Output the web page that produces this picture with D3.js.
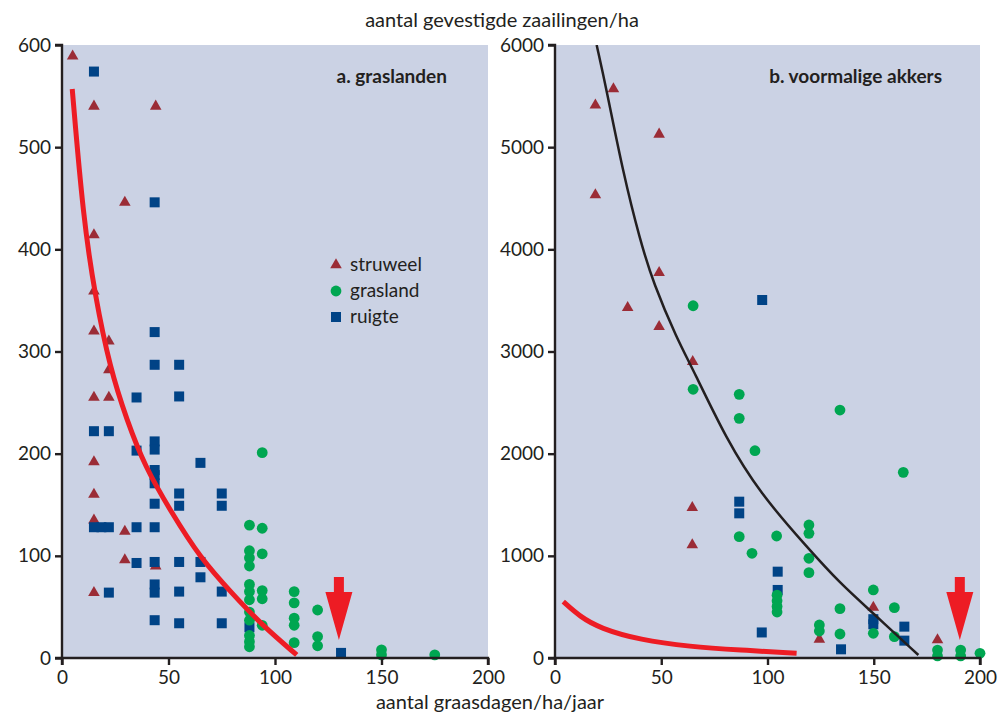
<!DOCTYPE html>
<html lang="nl">
<head>
<meta charset="UTF-8">
<title>Zaailingen en begrazing</title>
<script src="https://d3js.org/d3.v7.min.js"></script>
<style>
    body { margin: 0; background: #fff; }
    text { font-family: Lato, "Open Sans", sans-serif; fill: #231f20; }
</style>
</head>
<body>
<div id="chart"></div>
<script>
// ---- data ----
const xTicks = [0, 50, 100, 150, 200];
const yTicksA = [0, 100, 200, 300, 400, 500, 600];
const yTicksB = [0, 1000, 2000, 3000, 4000, 5000, 6000];

const legendLabels = ["struweel", "grasland", "ruigte"];

// a. graslanden  [graasdagen, zaailingen]
const aStruweel = [[5,589],[15,540],[44,540],[29.5,446],[15,414],[15,359],[15,320],[22,310],
    [22,282],[15,255],[22,255],[15,192],[15,160],[15,135],[29.5,124],[29.5,96],[44,90],[15,64]];
const aGrasland = [[88,130],[88,105],[88,98],[88,90],[88,72],[88,65],[88,57],[88,45],[88,37],
    [88,22],[88,16],[88,11],[94,201],[94,127],[94,102],[94,66],[94,58],[94,32],
    [109,65],[109,54],[109,39],[109,32],[109,15],[120,47],[120,21],[120,12],
    [150,8],[150,3],[175,3]];
const aRuigte = [[15,574],[43.5,446],[43.5,319],[43.5,287],[55,287],[35,255],[55,256],[15,222],
    [22,222],[43.5,212],[43.5,204],[35,203],[65,191],[43.5,184],[43.5,179],[43.5,171],
    [55,161],[75,161],[43.5,151],[55,149],[75,149],[15,128],[18.5,128],[22,128],[35,128],
    [43.5,128],[35,93],[43.5,94],[55,94],[65,94],[65,79],[43.5,72],[43.5,64],[55,65],
    [75,65],[22,64],[88,30],[43.5,37],[55,34],[75,34],[131,5]];
const aCurve = [[4.8,557],[10,430],[15.5,355],[22.5,284],[30.4,233],[39,187],[50.7,145],
    [64.8,98],[80.4,62],[94,32],[110.2,3]];

// b. voormalige akkers
const bStruweel = [[27.5,5569],[19,5412],[49,5126],[19,4532],[49,3771],[34.2,3429],[49,3243],
    [64.8,2900],[64.6,1471],[64.6,1106],[124.4,183],[149.8,496],[180,176]];
const bGrasland = [[65,3448],[65,2630],[86.7,2581],[86.7,2346],[94.1,2029],[86.7,1188],[92.7,1025],
    [134.1,2427],[163.9,1817],[104.3,1194],[119.5,1302],[119.5,1220],[119.5,976],[119.5,835],
    [104.5,615],[104.5,560],[104.5,505],[104.5,450],[124.4,323],[124.4,264],[134.1,483],
    [134.1,235],[149.8,666],[149.8,242],[159.7,493],[159.7,209],[180,78],[180,20],
    [190.9,78],[190.9,20],[200,46]];
const bRuigte = [[97.5,3504],[86.7,1530],[86.7,1416],[104.8,845],[104.8,666],[97.3,250],
    [134.6,85],[149.8,380],[149.8,330],[164.4,307],[164.4,170]];
const bCurveBlack = [[19.6,6000],[24.3,5559],[32.1,4744],[40,4091],[46.3,3667],[57.3,3129],
    [65.1,2819],[80.8,2134],[96.5,1612],[118.4,1089],[134.1,731],[149.8,437],[171,29]];
const bCurveRed = [[3.9,551],[11.8,404],[21.2,291],[40,176],[63.5,111],[87,78],[113.7,46]];

const arrowX = { a: 130, b: 190.5 };

// ---- styling ----
const W = 1000, H = 715;
const colTri = "#9b2c36", colCirc = "#00a651", colSq = "#004386";
const colRed = "#ed1c24", bg = "#cbd2e4", ink = "#231f20";

const svg = d3.select("#chart").append("svg")
    .attr("width", W).attr("height", H);

const yTop = 45, yBottom = 658;

function panel(opts) {
    const x = d3.scaleLinear().domain([0, 200]).range([opts.x0, opts.x1]);
    const y = d3.scaleLinear().domain([0, opts.ymax]).range([yBottom, yTop]);
    const g = svg.append("g");
    const clipId = "clip-" + opts.id;

    svg.append("clipPath").attr("id", clipId)
        .append("rect").attr("x", opts.x0).attr("y", yTop)
        .attr("width", opts.x1 - opts.x0).attr("height", yBottom - yTop);

    g.append("rect")
        .attr("x", opts.x0).attr("y", yTop)
        .attr("width", opts.x1 - opts.x0).attr("height", yBottom - yTop)
        .attr("fill", bg);

    const line = d3.line().x(d => x(d[0])).y(d => y(d[1])).curve(d3.curveBasis);

    // markers
    const marks = g.append("g");
    const tri = d3.symbol().type(d3.symbolTriangle).size(58);
    marks.selectAll(".tri").data(opts.tri).join("path")
        .attr("d", tri)
        .attr("transform", d => `translate(${x(d[0])},${y(d[1])})`)
        .attr("fill", colTri);
    marks.selectAll(".sq").data(opts.sq).join("rect")
        .attr("x", d => x(d[0]) - 5).attr("y", d => y(d[1]) - 5)
        .attr("width", 10).attr("height", 10)
        .attr("fill", colSq);
    marks.selectAll(".circ").data(opts.circ).join("circle")
        .attr("cx", d => x(d[0])).attr("cy", d => y(d[1]))
        .attr("r", 5.4)
        .attr("fill", colCirc);

    opts.curves.forEach(c => {
        g.append("path").datum(c.data)
            .attr("clip-path", `url(#${clipId})`)
            .attr("d", line)
            .attr("fill", "none")
            .attr("stroke", c.color)
            .attr("stroke-width", c.width)
            .attr("stroke-linecap", "butt");
    });

    // red arrow pointing down at the axis
    const ax = x(opts.arrow);
    g.append("path")
        .attr("d", `M${ax - 5},577 L${ax + 5},577 L${ax + 5},592 L${ax + 13.5},592 L${ax},640 L${ax - 13.5},592 L${ax - 5},592 Z`)
        .attr("fill", colRed);

    // axes
    const xAxis = d3.axisBottom(x).tickValues(xTicks).tickSize(7).tickPadding(6);
    const yAxis = d3.axisLeft(y).tickValues(opts.yTicks).tickFormat(d3.format("d"))
        .tickSize(7).tickPadding(4);

    const gx = g.append("g").attr("transform", `translate(0,${yBottom})`).call(xAxis);
    const gy = g.append("g").attr("transform", `translate(${opts.x0},0)`).call(yAxis);
    [gx, gy].forEach(a => {
        a.select(".domain").attr("stroke", ink).attr("stroke-width", 2.4);
        a.selectAll(".tick line").attr("stroke", ink).attr("stroke-width", 2.4);
        a.selectAll(".tick text").style("font-size", "19px").attr("fill", ink);
    });
    gx.select(".domain").attr("d", `M${opts.x0},7V0H${opts.x1}V7`);
    gy.select(".domain").attr("d", `M-7,${yTop}H0V${yBottom}H-7`);

    g.append("text")
        .attr("x", opts.labelX).attr("y", 83)
        .attr("text-anchor", "end")
        .style("font-size", "19px").style("font-weight", "bold")
        .text(opts.label);

    return { x, y, g };
}

panel({
    id: "a", x0: 62, x1: 488, ymax: 600, yTicks: yTicksA,
    tri: aStruweel, circ: aGrasland, sq: aRuigte,
    curves: [{ data: aCurve, color: colRed, width: 5 }],
    arrow: arrowX.a, label: "a. graslanden", labelX: 447
});

panel({
    id: "b", x0: 555, x1: 980, ymax: 6000, yTicks: yTicksB,
    tri: bStruweel, circ: bGrasland, sq: bRuigte,
    curves: [{ data: bCurveBlack, color: ink, width: 2.5 }, { data: bCurveRed, color: colRed, width: 5 }],
    arrow: arrowX.b, label: "b. voormalige akkers", labelX: 942
});

// legend in panel a
const leg = svg.append("g").attr("transform", "translate(336,265)");
legendLabels.forEach((lab, i) => {
    const row = leg.append("g").attr("transform", `translate(0,${i * 26})`);
    if (i === 0) row.append("path").attr("d", d3.symbol().type(d3.symbolTriangle).size(58)).attr("fill", colTri);
    if (i === 1) row.append("circle").attr("r", 5.4).attr("fill", colCirc);
    if (i === 2) row.append("rect").attr("x", -5).attr("y", -5).attr("width", 10).attr("height", 10).attr("fill", colSq);
    row.append("text").attr("x", 14).attr("y", 6)
        .style("font-size", "19px").text(lab);
});

// axis titles
svg.append("text").attr("x", 502).attr("y", 27)
    .attr("text-anchor", "middle").style("font-size", "20px")
    .text("aantal gevestigde zaailingen/ha");
svg.append("text").attr("x", 490).attr("y", 709)
    .attr("text-anchor", "middle").style("font-size", "20px")
    .text("aantal graasdagen/ha/jaar");
</script>
</body>
</html>
